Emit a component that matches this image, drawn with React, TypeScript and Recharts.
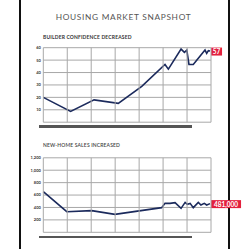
import React from "react";
import { CartesianGrid, Line, LineChart, XAxis, YAxis } from "recharts";

// builder confidence index (x = position across the 7 columns)
const builderX = [0, 1.14, 2.12, 3.13, 4.11, 5.08, 5.22, 5.75, 5.89, 5.99, 6.08, 6.26, 6.75, 6.82, 6.89, 6.96];
const builderVals = [20, 8.7, 18, 15.2, 28.9, 46.5, 42.7, 58.9, 56.2, 58.1, 46.5, 46.5, 58.1, 55.4, 57.6, 57.3];
const builderTicks = [0, 10, 20, 30, 40, 50, 60];

// new-home sales, thousands
const salesX = [0, 0.98, 2.02, 2.99, 4.94, 5.08, 5.29, 5.5, 5.75, 5.92, 6.01, 6.13, 6.26, 6.47, 6.58, 6.72, 6.82, 6.96];
const salesVals = [654, 332, 349, 289, 397, 466, 466, 477, 386, 482, 450, 466, 397, 482, 440, 466, 440, 462];
const salesTicks = [0, 200, 400, 600, 800, 1000, 1200];

const xTicks = [0, 1, 2, 3, 4, 5, 6, 7];

const builderData = builderX.map((x, i) => ({ x, v: builderVals[i] }));
const salesData = salesX.map((x, i) => ({ x, v: salesVals[i] }));

const NAVY = "#1b2a5c";
const RED = "#e3203d";
const GRID = "#a8a8a8";
const FONT = "Lato, 'Open Sans', sans-serif";

const PLOT_LEFT = 43.3;
const PLOT_W = 167.7;
const PLOT_H = 74.5;

function endLabel(text: string, boxW: number, count: number) {
  return (props: any) => {
    const { x, y, index } = props;
    if (index !== count - 1) return null;
    return (
      <g>
        <rect x={x + 1} y={y - 3.5} width={boxW} height={8} fill={RED} />
        <text
          x={x + 1 + boxW / 2}
          y={y + 3}
          textAnchor="middle"
          fontSize={6.5}
          fontWeight="bold"
          fill="#fff"
          fontFamily={FONT}
        >
          {text}
        </text>
      </g>
    );
  };
}

// column lines drawn over the plot area (the built-in vertical grid would not show)
function ColumnGrid({ top }: { top: number }) {
  return (
    <svg
      width={250}
      height={top + PLOT_H + 2}
      style={{ position: "absolute", left: 0, top: 0, pointerEvents: "none" }}
    >
      {xTicks.map((t) => {
        const x = PLOT_LEFT + (t / 7) * PLOT_W;
        return <line key={t} x1={x} x2={x} y1={top} y2={top + PLOT_H} stroke={GRID} strokeWidth={1} />;
      })}
    </svg>
  );
}

function MiniChart({
  data,
  ticks,
  max,
  fmt,
  label,
  boxW,
  marginTop,
  height,
}: {
  data: { x: number; v: number }[];
  ticks: number[];
  max: number;
  fmt: (v: number) => string;
  label: string;
  boxW: number;
  marginTop: number;
  height: number;
}) {
  return (
    <div style={{ position: "relative", width: 250, height }}>
      <LineChart
        width={250}
        height={height}
        data={data}
        margin={{ top: marginTop, right: 39, bottom: height - marginTop - PLOT_H - 1, left: PLOT_LEFT - 10 }}
      >
        <CartesianGrid stroke={GRID} strokeWidth={1} vertical={false} />
        <XAxis
          type="number"
          dataKey="x"
          domain={[0, 7]}
          ticks={xTicks}
          interval={0}
          height={1}
          tick={() => <g />}
          axisLine={false}
          tickLine={false}
        />
        <YAxis
          domain={[0, max]}
          ticks={ticks}
          width={10}
          axisLine={false}
          tickLine={false}
          tickSize={0}
          tickMargin={2.5}
          tickFormatter={fmt}
          tick={{ fontSize: 4, fill: "#333", fontWeight: "bold", fontFamily: FONT }}
          interval={0}
        />
        <Line
          type="linear"
          dataKey="v"
          stroke={NAVY}
          strokeWidth={1.6}
          dot={false}
          isAnimationActive={false}
          label={endLabel(label, boxW, data.length)}
        />
      </LineChart>
      <ColumnGrid top={marginTop} />
    </div>
  );
}

export default function App() {
  return (
    <div
      style={{
        position: "absolute",
        left: 0,
        top: 0,
        width: 250,
        height: 249,
        background: "#fff",
        overflow: "hidden",
        fontFamily: FONT,
      }}
    >
      <div style={{ position: "absolute", left: 18.5, top: 0, width: 2.2, height: 249, background: "#111" }} />
      <div style={{ position: "absolute", left: 227.5, top: 0, width: 2.2, height: 249, background: "#111" }} />

      <div
        style={{
          position: "absolute",
          left: 0,
          width: 247,
          top: 12,
          textAlign: "center",
          fontSize: 8.3,
          letterSpacing: 0.7,
          color: "#555",
        }}
      >
        HOUSING MARKET SNAPSHOT
      </div>
      <div
        style={{
          position: "absolute",
          left: 43,
          top: 33.5,
          fontSize: 5,
          fontWeight: "bold",
          letterSpacing: 0.15,
          color: "#333",
        }}
      >
        BUILDER CONFIDENCE DECREASED
      </div>
      <div
        style={{
          position: "absolute",
          left: 43,
          top: 142,
          fontSize: 5,
          fontWeight: 600,
          letterSpacing: 0.15,
          color: "#444",
        }}
      >
        NEW-HOME SALES INCREASED
      </div>

      <div style={{ position: "absolute", left: 0, top: 0 }}>
        <MiniChart
          data={builderData}
          ticks={builderTicks}
          max={60}
          fmt={(v) => (v === 0 ? "" : String(v))}
          label="57"
          boxW={11}
          marginTop={47.7}
          height={126}
        />
      </div>
      <div style={{ position: "absolute", left: 0, top: 130 }}>
        <MiniChart
          data={salesData}
          ticks={salesTicks}
          max={1200}
          fmt={(v) => (v === 0 ? "" : v.toLocaleString("en-US"))}
          label="481,000"
          boxW={30}
          marginTop={27.8}
          height={105}
        />
      </div>

      <div style={{ position: "absolute", left: 38.5, top: 125.3, width: 153, height: 2.6, background: "#555" }} />
      <div style={{ position: "absolute", left: 38.5, top: 235.5, width: 153, height: 2.6, background: "#555" }} />
    </div>
  );
}
